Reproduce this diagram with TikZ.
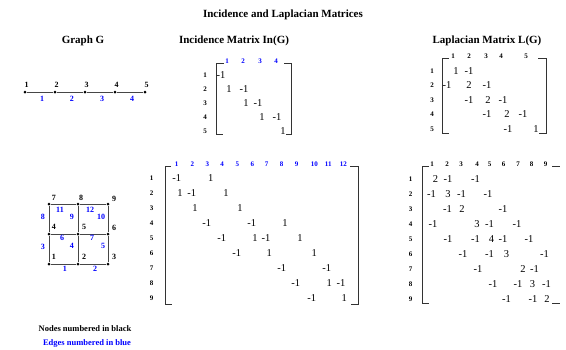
\documentclass[tikz,border=0pt]{standalone}
\usepackage{fontspec}
\setmainfont{Liberation Serif}
\begin{document}
\begin{tikzpicture}[x=1pt,y=-1pt,
  ttl/.style={font=\bfseries\fontsize{11}{13}\selectfont,inner sep=0pt},
  lbl/.style={font=\bfseries\fontsize{7}{8}\selectfont,inner sep=0pt},
  blbl/.style={lbl,text=blue},
  ent/.style={font=\fontsize{10.5}{12}\selectfont,inner sep=0pt},
  vl/.style={font=\bfseries\fontsize{8}{9}\selectfont,inner sep=0pt},
  el/.style={vl,text=blue},
  leg/.style={font=\bfseries\fontsize{8.5}{10}\selectfont,inner sep=0pt},
  vtx/.style={circle,fill=black,inner sep=0pt,minimum size=3pt},
  edge/.style={draw=gray!55!black,line width=1pt},
  brk/.style={draw=black!80,line width=0.7pt}]
\useasboundingbox (0,0) rectangle (566,349);
% titles
\node[ttl] (title) at (283,15) {Incidence and Laplacian Matrices};
\node[ttl] (tg) at (83,41) {Graph G};
\node[ttl] (ti) at (234,41) {Incidence Matrix In(G)};
\node[ttl] (tl) at (487,41) {Laplacian Matrix L(G)};
% path graph
\foreach \i/\x in {1/25,2/55,3/85,4/115,5/145}{
  \node[vtx] (p\i) at (\x,92) {};
  \node[vl] (pl\i) at (\x+1.5,85) {\i};
}
\foreach \a/\b in {1/2,2/3,3/4,4/5} \draw[edge] (p\a) -- (p\b);
\foreach \i/\x in {1/42,2/72,3/102,4/132} \node[el] (pe\i) at (\x,99) {\i};
% grid graph
\foreach \i/\x/\y in {1/49/264,2/78/264,3/108/264,4/49/234,5/78/234,6/108/234,7/49/204,8/78/204,9/108/204}
  \node[vtx] (g\i) at (\x,\y) {};
\foreach \a/\b in {1/2,2/3,1/4,2/5,3/6,4/5,5/6,4/7,5/8,6/9,7/8,8/9} \draw[edge] (g\a) -- (g\b);
\foreach \i/\x/\y in {1/54/257,2/84/257,3/114/257,4/54/227,5/84/227,6/114/228,7/54/198,8/81/198,9/114/199}
  \node[vl] (gl\i) at (\x,\y) {\i};
\foreach \i/\x/\y in {1/65/269,2/95/269,3/43/247,4/72/246,5/103/246,6/62/238,7/92/238,8/43/217,9/72/217,10/101/217,11/60/210,12/90/210}
  \node[el] (ge\i) at (\x,\y) {\i};
\node[leg] (leg1) at (85,329) {Nodes numbered in black};
\node[leg,text=blue] (leg2) at (87,343) {Edges numbered in blue};
% ---- small incidence matrix
\foreach \i/\y in {1/75,2/89,3/103,4/117,5/131} \node[lbl] (ir\i) at (205,\y) {\i};
\foreach \i/\x in {1/227,2/243,3/260,4/276} \node[blbl] (ic\i) at (\x,61) {\i};
\coordinate (ia1) at (224,63); \coordinate (ia2) at (216,63); \coordinate (ia3) at (216,134); \coordinate (ia4) at (223,134);
\draw[brk] (ia1) -- (ia2) -- (ia3) -- (ia4);
\coordinate (ib1) at (284,63); \coordinate (ib2) at (291,63); \coordinate (ib3) at (291,134); \coordinate (ib4) at (286,134);
\draw[brk] (ib1) -- (ib2) -- (ib3) -- (ib4);
\foreach \x/\y/\t [count=\k] in {221/75/-1, 229/89/1, 244/89/-1, 246/103/1, 258/103/-1, 262/117/1, 277/117/-1, 283/131/1}
  \node[ent] (ie\k) at (\x,\y) {\t};
% ---- small Laplacian
\foreach \i/\y in {1/71,2/85.5,3/100,4/114.5,5/129} \node[lbl] (lr\i) at (432,\y) {\i};
\foreach \i/\x in {1/453,2/469,3/486,4/501,5/526} \node[lbl] (lc\i) at (\x,56) {\i};
\coordinate (la1) at (449,58); \coordinate (la2) at (442,58); \coordinate (la3) at (442,133); \coordinate (la4) at (449,133);
\draw[brk] (la1) -- (la2) -- (la3) -- (la4);
\coordinate (lb1) at (538,58); \coordinate (lb2) at (546,58); \coordinate (lb3) at (546,133); \coordinate (lb4) at (539,133);
\draw[brk] (lb1) -- (lb2) -- (lb3) -- (lb4);
\foreach \x/\y/\t [count=\k] in {456/71/1, 469/71/-1, 447/85.5/-1, 469/85.5/2, 487/85.5/-1, 469/100/-1, 488/100/2, 503/100/-1, 487/114.5/-1, 507/114.5/2, 523/114.5/-1, 508/129/-1, 536/129/1}
  \node[ent] (le\k) at (\x,\y) {\t};
% ---- big incidence matrix
\foreach \i in {1,...,9} \node[lbl] (Ir\i) at (151.5,163.5+15*\i) {\i};
\foreach \i/\x in {1/176.7,2/192.3,3/207.3,4/222,5/237.3,6/252.3,7/266.7,8/281.7,9/296.7,10/314.3,11/328.3,12/343.3}
  \node[blbl] (Ic\i) at (\x,164) {\i};
\coordinate (Ia1) at (171,166); \coordinate (Ia2) at (165,166); \coordinate (Ia3) at (165,304); \coordinate (Ia4) at (172,304);
\draw[brk] (Ia1) -- (Ia2) -- (Ia3) -- (Ia4);
\coordinate (Ib1) at (350,166); \coordinate (Ib2) at (358,166); \coordinate (Ib3) at (358,304); \coordinate (Ib4) at (351,304);
\draw[brk] (Ib1) -- (Ib2) -- (Ib3) -- (Ib4);
\foreach \x/\r/\t [count=\k] in {176.7/1/-1, 210.7/1/1,
  180/2/1, 191.7/2/-1, 226/2/1,
  195/3/1, 240/3/1,
  206.7/4/-1, 251.7/4/-1, 285/4/1,
  221.7/5/-1, 255/5/1, 266/5/-1, 300/5/1,
  236.7/6/-1, 269.3/6/1, 314.3/6/1,
  281.7/7/-1, 326.7/7/-1,
  295.7/8/-1, 329.3/8/1, 341/8/-1,
  311.7/9/-1, 344.3/9/1}
  \node[ent] (Ie\k) at (\x,163.5+15*\r) {\t};
% ---- big Laplacian
\foreach \i in {1,...,9} \node[lbl] (Lr\i) at (410.5,163.8+15*\i) {\i};
\foreach \i/\x in {1/432,2/447,3/461,4/477,5/489.5,6/503.5,7/518,8/531.5,9/545.5}
  \node[lbl] (Lc\i) at (\x,164) {\i};
\coordinate (La1) at (429,166); \coordinate (La2) at (422,166); \coordinate (La3) at (422,303); \coordinate (La4) at (429,303);
\draw[brk] (La1) -- (La2) -- (La3) -- (La4);
\coordinate (Lb1) at (552,166); \coordinate (Lb2) at (560,166);
\draw[brk] (Lb1) -- (Lb2);
\coordinate (Lb3) at (552,303); \coordinate (Lb4) at (560,303);
\draw[brk] (Lb3) -- (Lb4);
\foreach \x/\r/\t [count=\k] in {435.5/1/2, 448/1/-1, 475.5/1/-1,
  431.5/2/-1, 448/2/3, 461.5/2/-1, 488/2/-1,
  447.5/3/-1, 462/3/2, 503/3/-1,
  433/4/-1, 477/4/3, 489.5/4/-1, 517/4/-1,
  448/5/-1, 475.5/5/-1, 491.5/5/4, 503/5/-1, 529/5/-1,
  463/6/-1, 489.5/6/-1, 506.5/6/3, 544.5/6/-1,
  478/7/-1, 523/7/2, 534.5/7/-1,
  493/8/-1, 518/8/-1, 532.5/8/3, 546.5/8/-1,
  506.5/9/-1, 533/9/-1, 547/9/2}
  \node[ent] (Le\k) at (\x,163.8+15*\r) {\t};
\end{tikzpicture}
\end{document}
